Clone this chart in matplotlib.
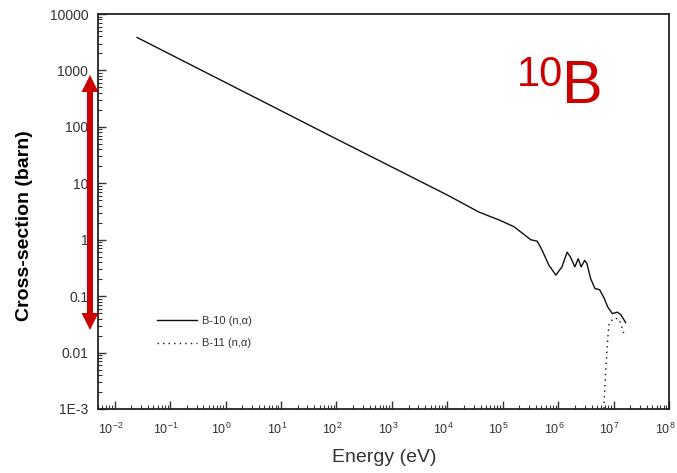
import matplotlib
matplotlib.use("Agg")
import matplotlib.pyplot as plt
import matplotlib.transforms as mtransforms
from matplotlib.patches import FancyArrow
from matplotlib.ticker import LogLocator, FixedLocator, FixedFormatter, NullFormatter

plt.rcParams['font.family'] = ['Liberation Sans', 'DejaVu Sans']
plt.rcParams['mathtext.default'] = 'regular'

# B-10 (n,alpha) cross-section
b10_energy = [0.0253, 1, 100, 1e4, 3.7e4, 8.5e4, 1.6e5, 3.2e5, 4.2e5, 5.1e5, 6.8e5,
              9.1e5, 1.17e6, 1.45e6, 1.66e6, 2.0e6, 2.3e6, 2.6e6, 3.0e6, 3.3e6,
              3.85e6, 4.6e6, 5.6e6, 6.8e6, 7.8e6, 9.5e6, 1.17e7, 1.35e7, 1.65e7]
b10_xs = [3840, 611, 61, 6.2, 3.1, 2.25, 1.7, 1.0, 0.94, 0.66, 0.355,
          0.236, 0.33, 0.60, 0.50, 0.33, 0.46, 0.33, 0.43, 0.38,
          0.206, 0.137, 0.13, 0.091, 0.065, 0.049, 0.052, 0.047, 0.034]

# B-11 (n,alpha), threshold reaction
b11_energy = [6.7e6, 6.92e6, 7.24e6, 7.59e6, 7.94e6, 8.3e6, 1.02e7, 1.26e7, 1.45e7, 1.58e7]
b11_xs = [1.02e-3, 0.0021, 0.0049, 0.011, 0.020, 0.033, 0.041, 0.039, 0.026, 0.020]

y_ticks = [1e-3, 0.01, 0.1, 1, 10, 100, 1000, 10000]
y_ticklabels = ['1E-3', '0.01', '0.1', '1', '10', '100', '1000', '10000']
x_ticks = [10.0 ** k for k in range(-2, 9)]
x_ticklabels = ['$10^{%d}$' % k for k in range(-2, 9)]

fig = plt.figure(figsize=(6.77, 4.73), dpi=100)
ax = fig.add_axes([98 / 677, 1 - 409 / 473, 571 / 677, 395 / 473])

ax.plot(b10_energy, b10_xs, color='#111111', lw=1.0, label='B-10 (n,\u03b1)')
ax.plot(b11_energy, b11_xs, color='#111111', lw=1.0, linestyle=(0, (1, 3)),
        label='B-11 (n,\u03b1)')

ax.set_xscale('log')
ax.set_yscale('log')
ax.set_xlim(0.005, 1e8)
ax.set_ylim(1e-3, 1e4)

ax.xaxis.set_major_locator(FixedLocator(x_ticks))
ax.xaxis.set_major_formatter(FixedFormatter(x_ticklabels))
ax.xaxis.set_minor_locator(LogLocator(base=10, subs=range(2, 10), numticks=30))
ax.xaxis.set_minor_formatter(NullFormatter())
ax.yaxis.set_major_locator(FixedLocator(y_ticks))
ax.yaxis.set_major_formatter(FixedFormatter(y_ticklabels))
ax.yaxis.set_minor_locator(LogLocator(base=10, subs=range(2, 10), numticks=30))
ax.yaxis.set_minor_formatter(NullFormatter())

ax.tick_params(which='both', direction='in', top=False, right=False, color='#333333')
ax.tick_params(which='major', length=6, width=1)
ax.tick_params(which='minor', length=3, width=0.8)
ax.tick_params(axis='x', labelsize=9, labelcolor='#333333', pad=9)
ax.tick_params(axis='y', labelsize=10, labelcolor='#333333', pad=7)

# x tick labels sit a little left of their ticks in the original
shift = mtransforms.ScaledTranslation(-4 / 100, 0, fig.dpi_scale_trans)
for lbl in ax.get_xticklabels():
    lbl.set_transform(lbl.get_transform() + shift)

for s in ax.spines.values():
    s.set_color('#222222')
    s.set_linewidth(1.3)

ax.set_xlabel('Energy (eV)', fontsize=14, color='#333333')
ax.xaxis.set_label_coords(0.501, -0.101)
ax.set_ylabel('Cross-section (barn)', fontsize=14, fontweight='bold', color='black')
ax.yaxis.set_label_coords(-0.114, 0.463)

leg = ax.legend(loc='upper left', bbox_to_anchor=(0.103, 0.235), frameon=False,
                fontsize=8, handlelength=3.6, handletextpad=0.45, labelspacing=1.1,
                borderpad=0, borderaxespad=0)
for t in leg.get_texts():
    t.set_color('#333333')

# isotope label
fig.text(517 / 677, 1 - 86 / 473, '10', fontsize=30, color='#cc0000', va='baseline', ha='left')
fig.text(562 / 677, 1 - 103 / 473, 'B', fontsize=44, color='#cc0000', va='baseline', ha='left')

# red double arrow beside the y axis (inches in figure), two halves overlapping in the middle
mid = (473 - 202.5) / 100
for d in (1, -1):
    arr = FancyArrow(0.90, mid - d * 0.03, 0, d * 1.305, width=0.06, head_width=0.17,
                     head_length=0.17, length_includes_head=True, color='#cc0000', lw=0,
                     transform=fig.dpi_scale_trans)
    fig.add_artist(arr)

fig.savefig('out.png', dpi=100)
